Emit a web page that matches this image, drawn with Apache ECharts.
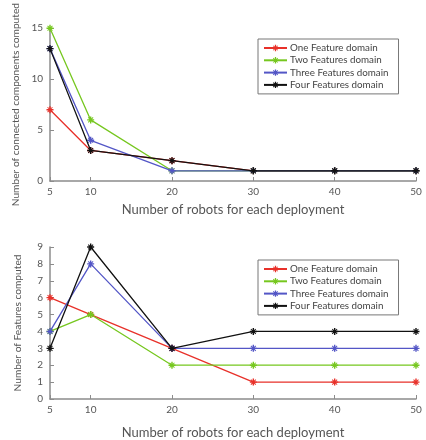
<!DOCTYPE html>
<html><head><meta charset="utf-8">
<script src="https://cdn.jsdelivr.net/npm/echarts@6/dist/echarts.min.js"></script>
<style>html,body{margin:0;padding:0;background:#fff}#c{width:426px;height:440px}</style>
</head><body><div id="c"></div>
<script>
var robots = [5, 10, 20, 30, 40, 50];
var seriesNames = ['One Feature domain', 'Two Features domain', 'Three Features domain', 'Four Features domain'];
var topOne = [7, 3, 2, 1, 1, 1];
var topTwo = [15, 6, 1, 1, 1, 1];
var topThree = [13, 4, 1, 1, 1, 1];
var topFour = [13, 3, 2, 1, 1, 1];
var botOne = [6, 5, 3, 1, 1, 1];
var botTwo = [4, 5, 2, 2, 2, 2];
var botThree = [4, 8, 3, 3, 3, 3];
var botFour = [3, 9, 3, 4, 4, 4];
var colors = ['#e8312a', '#76c71f', '#5356c6', '#111111'];

var star = 'path://M-1,-5 L1,-5 L1,5 L-1,5 Z M-5,-1 L5,-1 L5,1 L-5,1 Z M-3,-4 L4,3 L3,4 L-4,-3 Z M3,-4 L4,-3 L-3,4 L-4,3 Z';
var font = 'Lato, "Open Sans", sans-serif';

function pairs(vals) { return robots.map(function (r, i) { return [r, vals[i]]; }); }

function mkSeries(name, vals, idx, ci) {
  return {
    name: name, type: 'line', xAxisIndex: idx, yAxisIndex: idx,
    data: pairs(vals), symbol: star, symbolSize: 7, showSymbol: true,
    lineStyle: { width: 1.3, color: colors[ci] }, itemStyle: { color: colors[ci] },
    animation: false, z: 3 + ci
  };
}

function xAxis(idx, gap) {
  return {
    type: 'value', gridIndex: idx, min: 5, max: 50,
    name: 'Number of robots for each deployment', nameLocation: 'middle', nameGap: gap,
    nameTextStyle: { fontFamily: font, fontSize: 13, color: '#555' },
    axisLine: { lineStyle: { color: '#8c8c8c', width: 1.5 } },
    axisTick: { inside: true, length: 4, customValues: robots, lineStyle: { color: '#8c8c8c' } },
    axisLabel: { customValues: robots, fontFamily: font, fontSize: 10, color: '#555', margin: 6 },
    splitLine: { show: false }
  };
}
function yAxis(idx, max, interval, name, gap, fs) {
  return {
    type: 'value', gridIndex: idx, min: 0, max: max, interval: interval,
    name: name, nameLocation: 'middle', nameGap: gap,
    nameTextStyle: { fontFamily: font, fontSize: fs, color: '#555' },
    axisLine: { show: true, lineStyle: { color: '#8c8c8c', width: 1.5 } },
    axisTick: { show: true, inside: true, length: 4, lineStyle: { color: '#8c8c8c' } },
    axisLabel: { fontFamily: font, fontSize: 10, color: '#555', margin: 7 },
    splitLine: { show: false }
  };
}
function legend(top) {
  return {
    data: seriesNames, left: 258, top: top, orient: 'vertical',
    itemWidth: 23, itemHeight: 8, itemGap: 2.3, padding: [4, 10, 4, 5],
    borderColor: '#777', borderWidth: 1, backgroundColor: '#fff', borderRadius: 0,
    textStyle: { fontFamily: font, fontSize: 9.8, color: '#444', padding: [0, 0, 0, -2] }, selectedMode: false
  };
}

var chart = echarts.init(document.getElementById('c'));
chart.setOption({
  animation: false,
  backgroundColor: '#fff',
  grid: [
    { left: 50, right: 10, top: 25, height: 156 },
    { left: 50, right: 10, top: 247, height: 155 }
  ],
  xAxis: [xAxis(0, 22), xAxis(1, 27)],
  yAxis: [
    yAxis(0, 15, 5, 'Number of connected components computed', 29, 10.2),
    yAxis(1, 9, 1, 'Number of Features computed', 27, 10.2)
  ],
  legend: [legend(39), legend(260)],
  series: [
    mkSeries(seriesNames[0], topOne, 0, 0),
    mkSeries(seriesNames[1], topTwo, 0, 1),
    mkSeries(seriesNames[2], topThree, 0, 2),
    mkSeries(seriesNames[3], topFour, 0, 3),
    mkSeries(seriesNames[0], botOne, 1, 0),
    mkSeries(seriesNames[1], botTwo, 1, 1),
    mkSeries(seriesNames[2], botThree, 1, 2),
    mkSeries(seriesNames[3], botFour, 1, 3)
  ]
});
</script></body></html>
